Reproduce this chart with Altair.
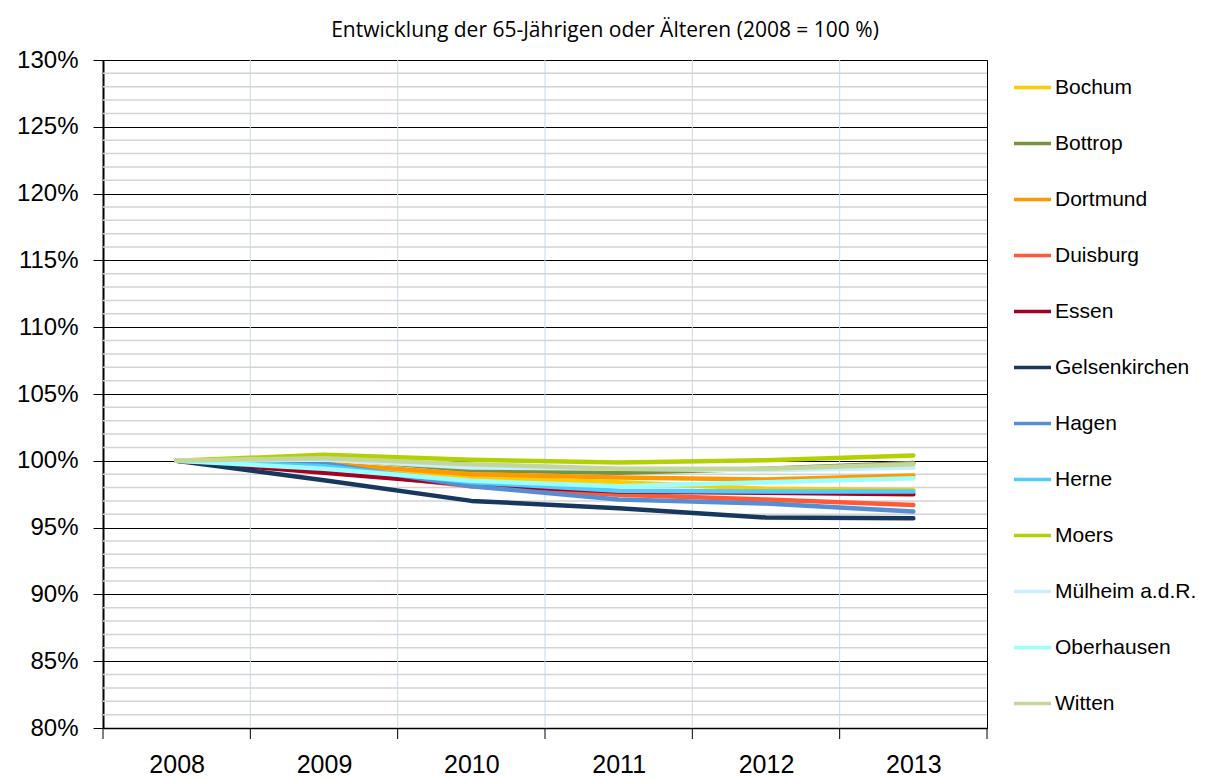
import altair as alt
import pandas as pd

years = [2008, 2009, 2010, 2011, 2012, 2013]

cities = ["Bochum", "Bottrop", "Dortmund", "Duisburg", "Essen", "Gelsenkirchen",
          "Hagen", "Herne", "Moers", "Mülheim a.d.R.", "Oberhausen", "Witten"]
colors = ["#FFCC00", "#77933C", "#FF9900", "#FF5A33", "#A50021", "#17375E",
          "#558ED5", "#4FCBFF", "#B3D100", "#C6EFFF", "#99FFFF", "#C4D79B"]

bochum = [1.000, 0.997, 0.9875, 0.984, 0.979, 0.978]
bottrop = [1.000, 1.002, 0.993, 0.991, 0.994, 0.9983]
dortmund = [1.000, 0.998, 0.990, 0.9875, 0.986, 0.989]
duisburg = [1.000, 0.993, 0.981, 0.9745, 0.971, 0.967]
essen = [1.000, 0.991, 0.982, 0.977, 0.976, 0.975]
gelsenkirchen = [1.000, 0.9855, 0.970, 0.9645, 0.9575, 0.957]
hagen = [1.000, 0.998, 0.981, 0.971, 0.968, 0.962]
herne = [1.000, 0.996, 0.984, 0.9775, 0.977, 0.977]
moers = [1.000, 1.0045, 1.0007, 0.9987, 1.0005, 1.0040]
muelheim = [1.000, 1.001, 0.995, 0.994, 0.993, 0.995]
oberhausen = [1.000, 0.994, 0.985, 0.981, 0.984, 0.987]
witten = [1.000, 1.002, 0.9975, 0.994, 0.994, 0.9975]

series = [bochum, bottrop, dortmund, duisburg, essen, gelsenkirchen,
          hagen, herne, moers, muelheim, oberhausen, witten]

major_ticks = [0.80, 0.85, 0.90, 0.95, 1.00, 1.05, 1.10, 1.15, 1.20, 1.25, 1.30]
minor_grid = [0.81, 0.82, 0.83, 0.84, 0.86, 0.87, 0.88, 0.89,
              0.91, 0.92, 0.93, 0.94, 0.96, 0.97, 0.98, 0.99,
              1.01, 1.02, 1.03, 1.04, 1.06, 1.07, 1.08, 1.09,
              1.11, 1.12, 1.13, 1.14, 1.16, 1.17, 1.18, 1.19,
              1.21, 1.22, 1.23, 1.24, 1.26, 1.27, 1.28, 1.29]
boundaries = [2008.5, 2009.5, 2010.5, 2011.5, 2012.5]
tick_positions = [2007.5, 2008.5, 2009.5, 2010.5, 2011.5, 2012.5, 2013.5]

rows = []
for city, vals in zip(cities, series):
    for yr, v in zip(years, vals):
        rows.append({"year": yr, "city": city, "value": v})
df = pd.DataFrame(rows)

FONT = "Liberation Sans"
xscale = alt.Scale(domain=[2007.5, 2013.5], nice=False, zero=False)
yscale = alt.Scale(domain=[0.80, 1.30], nice=False, zero=False)

xaxis = alt.Axis(values=years, format="d", ticks=False, tickSize=0,
                 grid=False, domain=True, domainColor="#000000",
                 domainWidth=1.5, labelFontSize=25, labelFont=FONT,
                 labelColor="#000000", labelPadding=24, title=None)
yaxis = alt.Axis(values=major_ticks, format=".0%", ticks=True,
                 tickSize=10, tickColor="#000000", tickWidth=1,
                 grid=True, gridColor="#000000", gridWidth=1,
                 domain=True, domainColor="#000000", domainWidth=2,
                 labelFontSize=24, labelFont=FONT, labelColor="#000000",
                 labelPadding=15, title=None)

minor = alt.Chart(pd.DataFrame({"v": minor_grid})).mark_rule(
    color="#D3D3D3", strokeWidth=1.5
).encode(y=alt.Y("v:Q", scale=yscale, axis=yaxis))

vgrid = alt.Chart(pd.DataFrame({"b": boundaries})).mark_rule(
    color="#C8D6F0", strokeWidth=1
).encode(x=alt.X("b:Q", scale=xscale, axis=xaxis))

xticks = alt.Chart(pd.DataFrame({"t": tick_positions})).mark_rule(
    color="#000000", strokeWidth=1
).encode(
    x=alt.X("t:Q", scale=xscale, axis=xaxis),
    y=alt.value(668),
    y2=alt.value(679),
)

lines = alt.Chart(df).mark_line(
    strokeWidth=4.5, strokeCap="round", strokeJoin="round"
).encode(
    x=alt.X("year:Q", scale=xscale, axis=xaxis),
    y=alt.Y("value:Q", scale=yscale, axis=yaxis),
    color=alt.Color("city:N", scale=alt.Scale(domain=cities, range=colors),
                    legend=alt.Legend(title=None, orient="none", legendX=909,
                                      legendY=7, symbolType="stroke",
                                      symbolStrokeWidth=3.5, symbolSize=1369,
                                      labelFont=FONT, labelFontSize=21,
                                      labelColor="#000000", labelOffset=2,
                                      rowPadding=25, padding=0)),
    detail="city:N",
)

chart = alt.layer(minor, vgrid, xticks, lines).properties(
    width=884,
    height=668,
    autosize=alt.AutoSizeParams(type="none"),
    padding={"left": 95, "top": 52, "right": 210, "bottom": 50},
    title=alt.TitleParams(
        "Entwicklung der 65-Jährigen oder Älteren (2008 = 100 %)",
        font="Open Sans", fontSize=21, fontWeight="normal", color="#000000",
        anchor="middle", dx=60, offset=7,
    ),
).configure_view(stroke="#000000", strokeWidth=1)

chart.save("out.html", embed_options={"renderer": "svg", "actions": False})
